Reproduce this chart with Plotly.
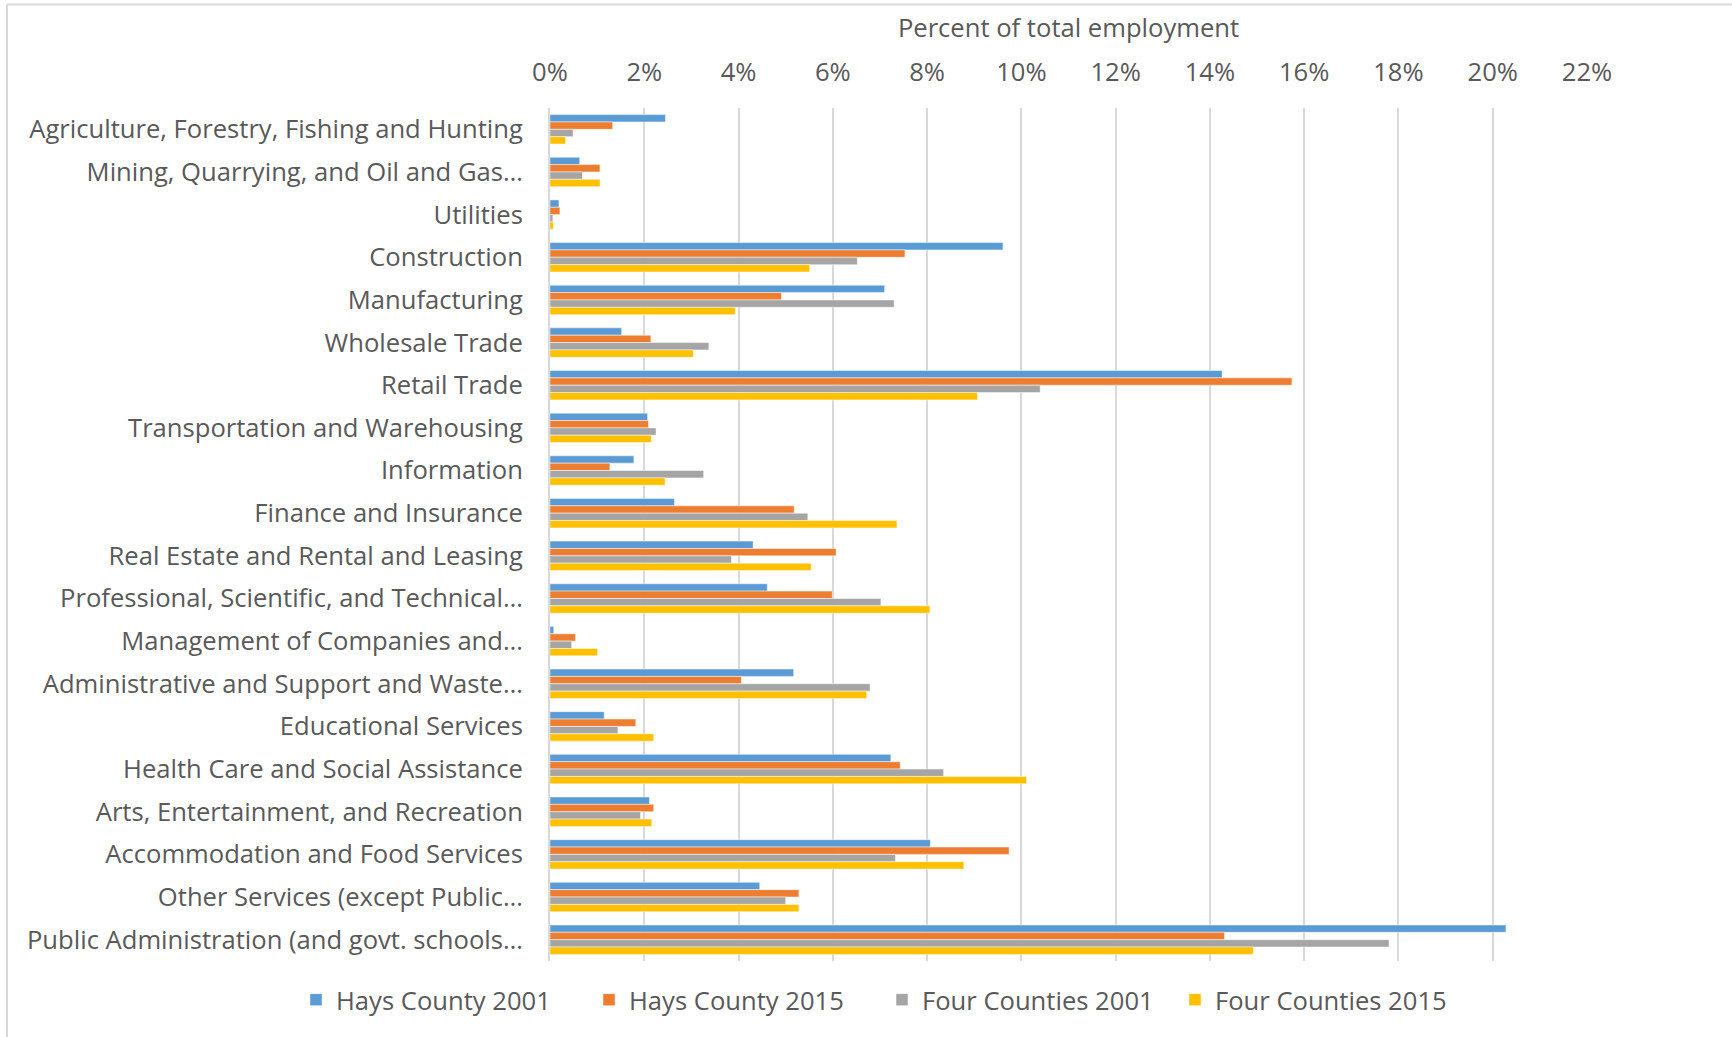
import plotly.graph_objects as go

categories = [
    "Agriculture, Forestry, Fishing and Hunting",
    "Mining, Quarrying, and Oil and Gas…",
    "Utilities",
    "Construction",
    "Manufacturing",
    "Wholesale Trade",
    "Retail Trade",
    "Transportation and Warehousing",
    "Information",
    "Finance and Insurance",
    "Real Estate and Rental and Leasing",
    "Professional, Scientific, and Technical…",
    "Management of Companies and…",
    "Administrative and Support and Waste…",
    "Educational Services",
    "Health Care and Social Assistance",
    "Arts, Entertainment, and Recreation",
    "Accommodation and Food Services",
    "Other Services (except Public…",
    "Public Administration (and govt. schools…",
]

hays_2001 = [2.45, 0.63, 0.19, 9.61, 7.10, 1.52, 14.26, 2.07, 1.78, 2.64,
             4.31, 4.61, 0.08, 5.17, 1.15, 7.23, 2.11, 8.07, 4.45, 20.28]
hays_2015 = [1.33, 1.06, 0.21, 7.53, 4.91, 2.14, 15.74, 2.09, 1.27, 5.18,
             6.07, 5.99, 0.54, 4.06, 1.82, 7.43, 2.20, 9.74, 5.28, 14.31]
four_2001 = [0.49, 0.69, 0.06, 6.52, 7.30, 3.37, 10.40, 2.25, 3.26, 5.47,
             3.85, 7.02, 0.46, 6.79, 1.44, 8.35, 1.92, 7.33, 5.00, 17.80]
four_2015 = [0.33, 1.06, 0.07, 5.51, 3.93, 3.04, 9.07, 2.15, 2.44, 7.36,
             5.54, 8.06, 1.01, 6.72, 2.20, 10.11, 2.16, 8.78, 5.28, 14.92]

series = [
    ("Hays County 2001", hays_2001, "#5B9BD5"),
    ("Hays County 2015", hays_2015, "#ED7D31"),
    ("Four Counties 2001", four_2001, "#A5A5A5"),
    ("Four Counties 2015", four_2015, "#FFC000"),
]

tick_vals = [0, 2, 4, 6, 8, 10, 12, 14, 16, 18, 20, 22]
tick_text = [f"{v}%" for v in tick_vals]

FONT = "Open Sans"
TXT = "#595959"
FS = 25.6

fig = go.Figure()
for name, vals, color in series:
    fig.add_trace(go.Bar(
        y=categories, x=vals, name=name, orientation="h",
        marker=dict(color=color, line=dict(color="rgba(255,255,255,0.6)", width=0.8)),
    ))

W, H = 1732, 1037
L, R, T, B = 550, 145, 108, 76
PW, PH = W - L - R, H - T - B


def px(x):
    return (x - L) / PW


def py(y):
    return (H - B - y) / PH


border = dict(color="#D9D9D9", width=2)

fig.update_layout(
    width=W, height=H, autosize=False,
    barmode="group", bargap=0.31, bargroupgap=0,
    plot_bgcolor="white", paper_bgcolor="white",
    margin=dict(l=L, r=R, t=T, b=B, autoexpand=False),
    font=dict(family=FONT, color=TXT, size=FS),
    legend=dict(
        orientation="h", xref="paper", yref="paper",
        x=px(296), xanchor="left", y=py(1000), yanchor="middle",
        font=dict(family=FONT, size=FS, color=TXT),
        traceorder="normal", itemwidth=30,
        entrywidth=248, entrywidthmode="pixels",
        bgcolor="rgba(0,0,0,0)",
    ),
    xaxis=dict(
        side="top", range=[0, 22], tickvals=tick_vals, ticktext=tick_text,
        showgrid=True, gridcolor="#D9D9D9", gridwidth=1.5,
        zeroline=False, showline=False, ticks="",
        ticklabelstandoff=21,
        tickfont=dict(family=FONT, size=FS, color=TXT),
        title=dict(text="Percent of total employment", standoff=8,
                   font=dict(family=FONT, size=FS, color=TXT)),
        fixedrange=True,
    ),
    yaxis=dict(
        autorange="reversed", showgrid=False, ticks="",
        showline=True, linecolor="#D9D9D9", linewidth=2,
        ticklabelstandoff=20,
        tickfont=dict(family=FONT, size=FS, color=TXT),
        fixedrange=True,
    ),
    shapes=[
        dict(type="line", xref="paper", yref="paper",
             x0=px(7), x1=px(W), y0=py(4.5), y1=py(4.5), line=border),
        dict(type="line", xref="paper", yref="paper",
             x0=px(7), x1=px(7), y0=py(4.5), y1=py(H), line=border),
    ],
)

fig.write_html("out.html", config={"displayModeBar": False},
               post_script="document.body.style.margin='0';")
